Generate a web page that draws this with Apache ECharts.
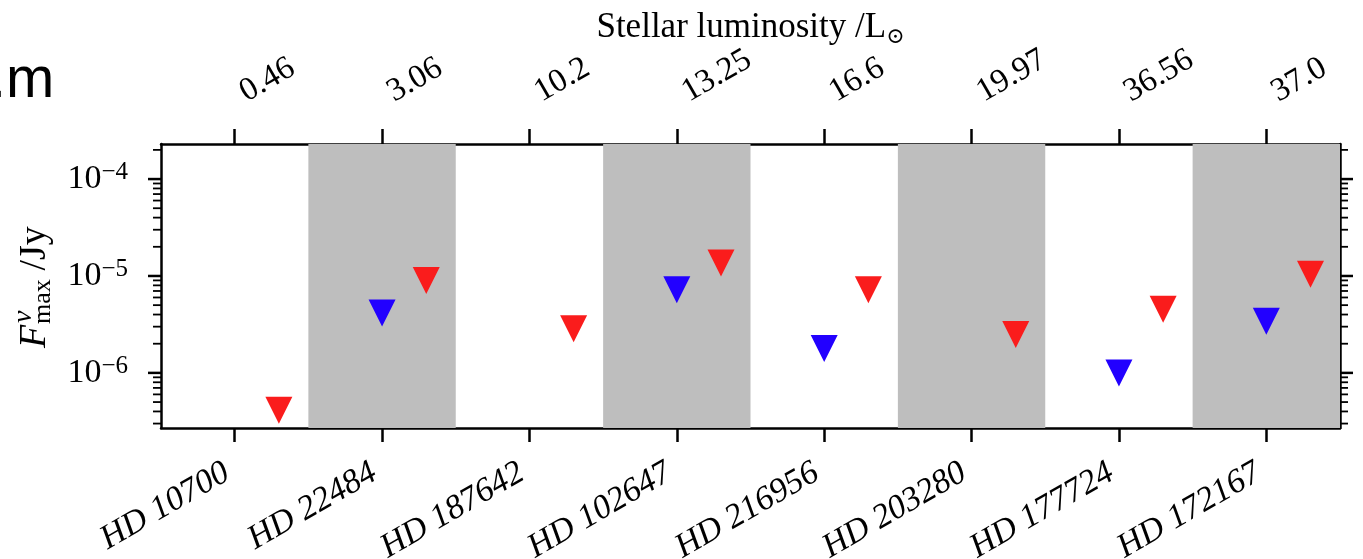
<!DOCTYPE html>
<html>
<head>
<meta charset="utf-8">
<script src="https://cdn.jsdelivr.net/npm/echarts@6/dist/echarts.min.js"></script>
<style>
  html, body { margin: 0; padding: 0; background: #ffffff; }
  #chart { width: 1363px; height: 559px; }
</style>
</head>
<body>
<div id="chart"></div>
<script>
// Targets (bottom axis) and their stellar luminosities (top axis)
const stars = ['HD 10700', 'HD 22484', 'HD 187642', 'HD 102647', 'HD 216956', 'HD 203280', 'HD 177724', 'HD 172167'];
const luminosities = ['0.46', '3.06', '10.2', '13.25', '16.6', '19.97', '36.56', '37.0'];

// Upper limits on peak flux density (Jy); null where no limit exists
const blueLimits = [null, 4.14e-6, null, 7.23e-6, 1.79e-6, null, 1.0e-6, 3.41e-6];
const redLimits = [4.11e-7, 9.0e-6, 2.85e-6, 1.36e-5, 7.23e-6, 2.49e-6, 4.54e-6, 1.04e-5];

// Reference flux levels (Jy)
const greenLevel = 7.16e-5;
const redLevel = 2.53e-5;

// Shaded target columns
const shadedColumns = [1, 3, 5, 7];

// Flux axis range and tick values
const fluxMin = 2.7e-7;
const fluxMax = 2.3e-4;
const majorTicks = [1e-6, 1e-5, 1e-4];
const minorTicks = [3e-7, 4e-7, 5e-7, 6e-7, 7e-7, 8e-7, 9e-7,
                    2e-6, 3e-6, 4e-6, 5e-6, 6e-6, 7e-6, 8e-6, 9e-6,
                    2e-5, 3e-5, 4e-5, 5e-5, 6e-5, 7e-5, 8e-5, 9e-5,
                    2e-4];

const RED_OFFSET = 0.3;
const SERIF = '"Liberation Serif", "DejaVu Serif", serif';

const blueData = [];
blueLimits.forEach(function (v, i) { if (v != null) blueData.push([i, v]); });
const redData = [];
redLimits.forEach(function (v, i) { if (v != null) redData.push([i + RED_OFFSET, v]); });

const tickData = majorTicks.map(function (v) { return [0, v, 1]; })
  .concat(minorTicks.map(function (v) { return [0, v, 0]; }));

const chart = echarts.init(document.getElementById('chart'));

function powerLabel(v) {
  const e = Math.log10(v);
  const r = Math.round(e);
  if (Math.abs(e - r) > 1e-6) return '';
  return '{b|10}{s|\u2212' + Math.abs(r) + '}';
}

const axisLineStyle = { color: '#000', width: 2.5 };

const yAxisBase = {
  type: 'log',
  logBase: 10,
  min: fluxMin,
  max: fluxMax,
  splitLine: { show: false },
  minorTick: { show: false },
  minorSplitLine: { show: false },
  axisTick: { show: false },
  axisLine: { show: true, onZero: false, lineStyle: axisLineStyle }
};

chart.setOption({
  animation: false,
  backgroundColor: '#ffffff',
  grid: { left: 161, right: 23, top: 144, bottom: 131, containLabel: false, outerBoundsMode: 'none' },
  xAxis: [
    {
      type: 'category',
      position: 'bottom',
      data: stars,
      boundaryGap: true,
      axisLine: { show: true, onZero: false, lineStyle: axisLineStyle },
      axisTick: { show: true, alignWithLabel: true, length: 14, lineStyle: { color: '#000', width: 2.5 } },
      axisLabel: {
        interval: 0, rotate: 30, margin: 38, padding: [0, 9, 0, 0],
        color: '#000', fontFamily: SERIF, fontStyle: 'italic', fontSize: 34
      },
      splitLine: { show: false }
    },
    {
      type: 'category',
      position: 'top',
      data: luminosities,
      boundaryGap: true,
      name: '{t|Stellar luminosity /L}{o|\u2299}',
      nameLocation: 'middle',
      nameGap: 96,
      nameMoveOverlap: false,
      nameTextStyle: {
        rich: {
          t: { fontFamily: SERIF, fontSize: 35, color: '#000' },
          o: { fontFamily: SERIF, fontSize: 22, color: '#000', padding: [18, 0, 0, 0] }
        }
      },
      axisLine: { show: true, onZero: false, lineStyle: axisLineStyle },
      axisTick: { show: true, alignWithLabel: true, length: 15, lineStyle: { color: '#000', width: 2.5 } },
      axisLabel: {
        interval: 0, rotate: -30, margin: 45, padding: [0, 0, 0, 9],
        color: '#000', fontFamily: SERIF, fontSize: 33
      },
      splitLine: { show: false }
    },
    {
      type: 'value',
      min: -0.5,
      max: 7.5,
      show: false
    }
  ],
  yAxis: [
    Object.assign({}, yAxisBase, {
      position: 'left',
      axisLabel: {
        show: true, margin: 33, formatter: powerLabel,
        showMinLabel: true, showMaxLabel: true,
        rich: {
          b: { fontFamily: SERIF, fontSize: 34, color: '#000' },
          s: { fontFamily: SERIF, fontSize: 25, color: '#000', padding: [0, 0, 13, 0] }
        }
      }
    }),
    Object.assign({}, yAxisBase, {
      position: 'right',
      axisLabel: { show: false }
    })
  ],
  graphic: [
    {
      type: 'group',
      x: 48, y: 348,
      rotation: Math.PI / 2,
      children: [
        { type: 'text', x: 0, y: -13, style: { text: 'F', font: 'italic 38px ' + SERIF, fill: '#000', verticalAlign: 'middle', align: 'left' } },
        { type: 'text', x: 25, y: -24, style: { text: '\u03bd', font: 'italic 28px ' + SERIF, fill: '#000', verticalAlign: 'middle', align: 'left' } },
        { type: 'text', x: 24, y: -5, style: { text: 'max', font: '26px ' + SERIF, fill: '#000', verticalAlign: 'middle', align: 'left' } },
        { type: 'text', x: 68, y: -13, style: { text: ' /Jy', font: '38px ' + SERIF, fill: '#000', verticalAlign: 'middle', align: 'left' } }
      ]
    },
    {
      type: 'text',
      left: -10,
      top: 52,
      style: { text: '.m', font: '58px "Liberation Sans", Arial, sans-serif', fill: '#000' }
    }
  ],
  series: [
    {
      name: 'columns',
      type: 'scatter',
      xAxisIndex: 2,
      yAxisIndex: 0,
      data: [],
      silent: true,
      z: 1,
      markArea: {
        silent: true,
        itemStyle: { color: '#bebebe', opacity: 1 },
        data: shadedColumns.map(function (i) { return [{ xAxis: i - 0.5 }, { xAxis: i + 0.5 }]; })
      }
    },
    {
      name: 'levels',
      type: 'scatter',
      xAxisIndex: 2,
      yAxisIndex: 0,
      data: [],
      silent: true,
      z: 2,
      markLine: {
        silent: true,
        symbol: ['none', 'none'],
        label: { show: false },
        data: [
          { yAxis: greenLevel, lineStyle: { color: '#1a7f1a', width: 3.5, type: [15, 7] } },
          { yAxis: redLevel, lineStyle: { color: '#fa1c1c', width: 3.5, type: [15, 7] } }
        ]
      }
    },
    {
      name: 'blue',
      type: 'scatter',
      xAxisIndex: 2,
      yAxisIndex: 0,
      symbol: 'triangle',
      symbolRotate: 180,
      symbolSize: 27,
      itemStyle: { color: '#2200ff', opacity: 1 },
      data: blueData,
      z: 3
    },
    {
      name: 'red',
      type: 'scatter',
      xAxisIndex: 2,
      yAxisIndex: 0,
      symbol: 'triangle',
      symbolRotate: 180,
      symbolSize: 27,
      itemStyle: { color: '#fa1c1c', opacity: 1 },
      data: redData,
      z: 3
    },
    {
      name: 'flux ticks',
      type: 'custom',
      xAxisIndex: 2,
      yAxisIndex: 0,
      silent: true,
      clip: false,
      data: tickData,
      z: 5,
      renderItem: function (params, api) {
        const y = api.coord([0, api.value(1)])[1];
        const cs = params.coordSys;
        const major = api.value(2) === 1;
        const len = major ? 13 : 8;
        const w = major ? 2.5 : 1.8;
        const st = { stroke: '#000', lineWidth: w };
        return {
          type: 'group',
          children: [
            { type: 'line', shape: { x1: cs.x - len, y1: y, x2: cs.x, y2: y }, style: st },
            { type: 'line', shape: { x1: cs.x + cs.width, y1: y, x2: cs.x + cs.width + len, y2: y }, style: st }
          ]
        };
      }
    }
  ]
});
</script>
</body>
</html>
